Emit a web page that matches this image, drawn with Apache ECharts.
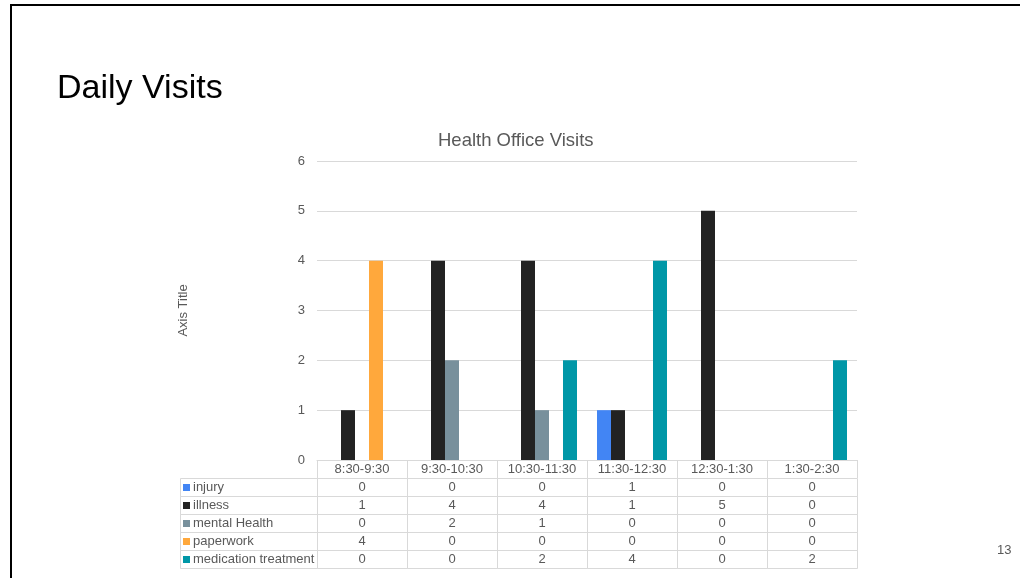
<!DOCTYPE html>
<html lang="en">
<head>
    <meta charset="utf-8"/>
    <title>Daily Visits</title>
    <script src="https://cdn.jsdelivr.net/npm/echarts@6/dist/echarts.min.js"></script>
    <style>
        html, body { margin: 0; padding: 0; background: #fff; }
    </style>
</head>
<body>
<div id="main" style="width: 1020px;height: 578px;"></div>
<script type="text/javascript">

    // chart data
    var categories = ['8:30-9:30', '9:30-10:30', '10:30-11:30', '11:30-12:30', '12:30-1:30', '1:30-2:30'];
    var injury = [0, 0, 0, 1, 0, 0];
    var illness = [1, 4, 4, 1, 5, 0];
    var mentalHealth = [0, 2, 1, 0, 0, 0];
    var paperwork = [4, 0, 0, 0, 0, 0];
    var medicationTreatment = [0, 0, 2, 4, 0, 2];
    var seriesNames = ['injury', 'illness', 'mental Health', 'paperwork', 'medication treatment'];
    var seriesColors = ['#4285F4', '#222222', '#78909C', '#FFA83C', '#0097A7'];
    var yMin = 0, yMax = 6, yStep = 1;

    var allValues = [injury, illness, mentalHealth, paperwork, medicationTreatment];
    var font = "'Liberation Sans', Arial, sans-serif";
    var gridLine = '#d9d9d9';
    var textGray = '#595959';

    // legend column width as a fraction of one category column (137px / 90px)
    var legendSpan = -137 / 90;

    var series = [];
    for (var i = 0; i < seriesNames.length; i++) {
        series.push({
            name: seriesNames[i],
            type: 'bar',
            data: allValues[i],
            barWidth: 14,
            barGap: '0%',
            itemStyle: {color: seriesColors[i]},
            xAxisIndex: 0,
            yAxisIndex: 0
        });
    }

    // data table cells (value rows)
    var cellData = [];
    for (var r = 0; r < allValues.length; r++) {
        for (var c = 0; c < categories.length; c++) {
            cellData.push([c, r, allValues[r][c]]);
        }
    }
    series.push({
        type: 'custom',
        xAxisIndex: 1,
        yAxisIndex: 1,
        clip: false,
        silent: true,
        data: cellData,
        renderItem: function (params, api) {
            var p0 = api.coord([api.value(0), api.value(1)]);
            var p1 = api.coord([api.value(0) + 1, api.value(1) + 1]);
            return {
                type: 'group',
                children: [{
                    type: 'rect',
                    shape: {x: Math.round(p0[0]) + 0.5, y: Math.round(p0[1]) + 0.5,
                        width: Math.round(p1[0] - p0[0]), height: Math.round(p1[1] - p0[1])},
                    style: {fill: 'none', stroke: gridLine, lineWidth: 1}
                }, {
                    type: 'text',
                    style: {
                        x: (p0[0] + p1[0]) / 2, y: (p0[1] + p1[1]) / 2,
                        text: String(api.value(2)),
                        align: 'center', verticalAlign: 'middle',
                        fill: textGray, font: '13px ' + font
                    }
                }]
            };
        }
    });

    // data table legend column
    var legendRows = [];
    for (var k = 0; k < seriesNames.length; k++) {
        legendRows.push([k]);
    }
    series.push({
        type: 'custom',
        xAxisIndex: 1,
        yAxisIndex: 1,
        clip: false,
        silent: true,
        data: legendRows,
        renderItem: function (params, api) {
            var idx = api.value(0);
            var p0 = api.coord([legendSpan, idx]);
            var p1 = api.coord([0, idx + 1]);
            var cy = (p0[1] + p1[1]) / 2;
            return {
                type: 'group',
                children: [{
                    type: 'rect',
                    shape: {x: Math.round(p0[0]) + 0.5, y: Math.round(p0[1]) + 0.5,
                        width: Math.round(p1[0] - p0[0]), height: Math.round(p1[1] - p0[1])},
                    style: {fill: 'none', stroke: gridLine, lineWidth: 1}
                }, {
                    type: 'rect',
                    shape: {x: p0[0] + 3, y: cy - 3, width: 7, height: 7},
                    style: {fill: seriesColors[idx]}
                }, {
                    type: 'text',
                    style: {
                        x: p0[0] + 13, y: cy,
                        text: seriesNames[idx],
                        align: 'left', verticalAlign: 'middle',
                        fill: textGray, font: '13px ' + font
                    }
                }]
            };
        }
    });

    var myChart = echarts.init(document.getElementById('main'));

    myChart.setOption({
        animation: false,
        backgroundColor: '#ffffff',
        textStyle: {fontFamily: font},
        title: {
            text: 'Health Office Visits',
            left: 433,
            top: 126,
            textStyle: {fontSize: 18.5, fontWeight: 'normal', color: textGray, fontFamily: font}
        },
        grid: [
            {left: 317, right: 163, top: 161, bottom: 118},
            {left: 180, right: 163, top: 478, height: 90}
        ],
        xAxis: [{
            type: 'category',
            gridIndex: 0,
            data: categories,
            axisLine: {lineStyle: {color: gridLine}},
            axisTick: {show: true, interval: 0, length: 18, lineStyle: {color: gridLine}},
            axisLabel: {interval: 0, margin: 3, fontSize: 13, color: textGray, fontFamily: font}
        }, {
            type: 'value',
            gridIndex: 1,
            min: legendSpan,
            max: categories.length,
            show: false
        }],
        yAxis: [{
            type: 'value',
            gridIndex: 0,
            min: yMin,
            max: yMax,
            interval: yStep,
            name: 'Axis Title',
            nameLocation: 'middle',
            nameRotate: 90,
            nameGap: 127,
            nameTextStyle: {fontSize: 13, color: textGray, fontFamily: font},
            axisLine: {show: false},
            axisTick: {show: false},
            axisLabel: {margin: 12, fontSize: 13, color: textGray, fontFamily: font},
            splitLine: {lineStyle: {color: gridLine}}
        }, {
            type: 'value',
            gridIndex: 1,
            min: 0,
            max: seriesNames.length,
            inverse: true,
            show: false
        }],
        graphic: [{
            type: 'line',
            shape: {x1: 11, y1: 5, x2: 1020, y2: 5},
            style: {stroke: '#000', lineWidth: 2}
        }, {
            type: 'line',
            shape: {x1: 11, y1: 4, x2: 11, y2: 578},
            style: {stroke: '#000', lineWidth: 2}
        }, {
            type: 'text',
            left: 57,
            top: 72,
            style: {text: 'Daily Visits', fill: '#000', font: '34px ' + font}
        }, {
            type: 'text',
            left: 997,
            top: 544,
            style: {text: '13', fill: textGray, font: '13px ' + font}
        }],
        series: series
    });
</script>
</body>
</html>
